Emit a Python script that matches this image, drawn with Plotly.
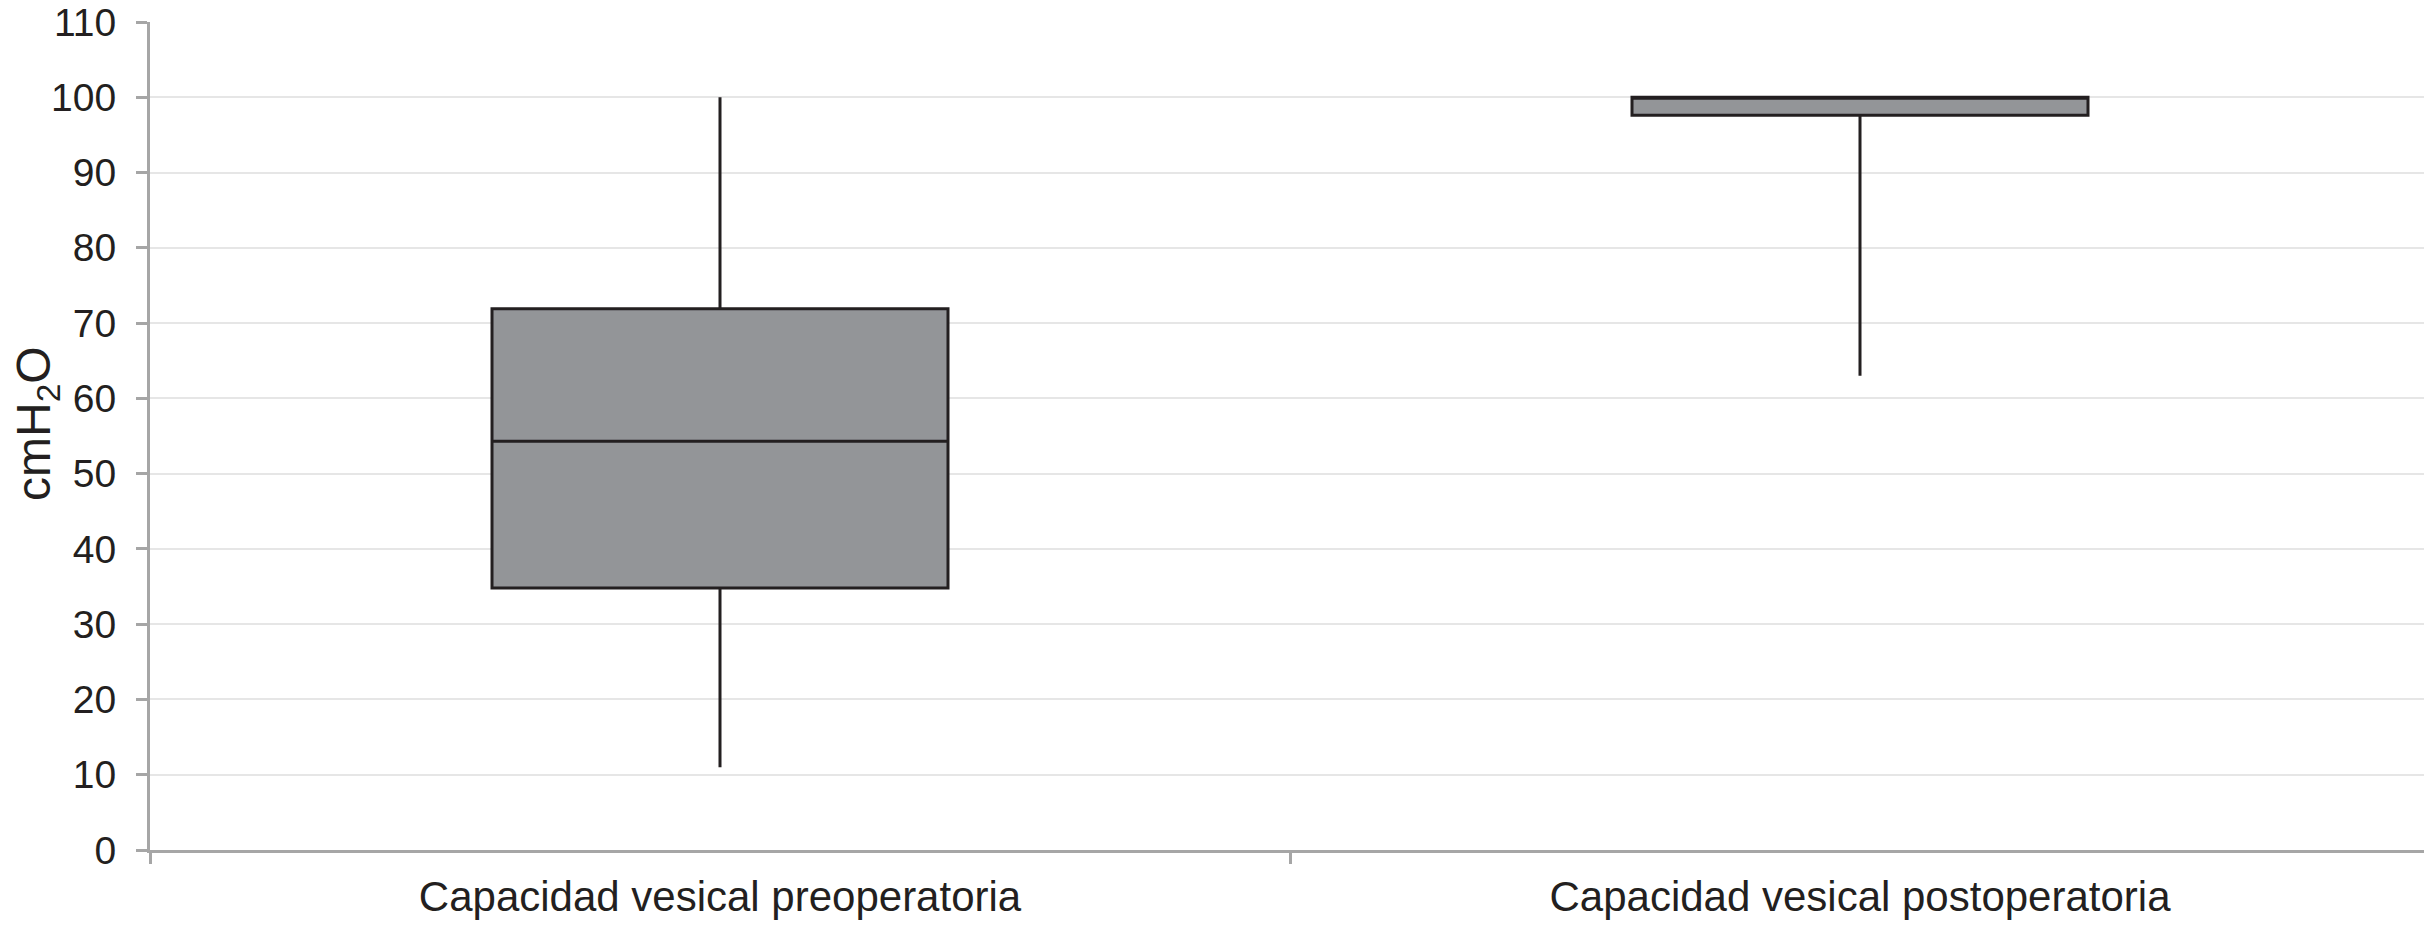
import plotly.graph_objects as go

categories = ["Capacidad vesical preoperatoria", "Capacidad vesical postoperatoria"]
q1 = [34.8, 97.6]
median = [54.3, 100]
q3 = [71.9, 100]
lowerfence = [11, 63]
upperfence = [100, 100]

y_ticks = list(range(0, 111, 10))
y_title = "cmH<sub>2</sub>O"

FONT = "Liberation Sans, Arial, Helvetica, sans-serif"
TEXT = "#231f20"
AXIS = "#a6a6a6"

fig = go.Figure()
fig.add_trace(go.Box(
    x=categories,
    q1=q1,
    median=median,
    q3=q3,
    lowerfence=lowerfence,
    upperfence=upperfence,
    width=0.4,
    fillcolor="#939598",
    line=dict(color="#231f20", width=3),
    whiskerwidth=0,
    boxpoints=False,
    hoverinfo="skip",
))

fig.update_layout(
    width=2432,
    height=932,
    margin=dict(l=142, r=10, t=14, b=90, autoexpand=False),
    plot_bgcolor="white",
    paper_bgcolor="white",
    showlegend=False,
    font=dict(family=FONT, color=TEXT),
)

fig.update_xaxes(
    automargin=False,
    range=[-0.5, 1.5],
    showline=True, linecolor=AXIS, linewidth=3,
    ticks="outside", tickson="boundaries", ticklen=11, tickwidth=3, tickcolor=AXIS,
    tickfont=dict(size=42, color=TEXT, family=FONT),
    showgrid=False, zeroline=False,
    ticklabelstandoff=8,
)

fig.update_yaxes(
    automargin=False,
    range=[0, 110], tickvals=y_ticks,
    showgrid=True, gridcolor="#e6e6e6", gridwidth=2,
    showline=True, linecolor=AXIS, linewidth=3,
    ticks="outside", ticklen=11, tickwidth=3, tickcolor=AXIS,
    tickfont=dict(size=39, color=TEXT, family=FONT),
    ticklabelstandoff=12,
    ticklabeloverflow="allow",
    zeroline=False,
)

fig.add_annotation(
    text=y_title, textangle=-90,
    xref="paper", yref="paper", x=0, y=0.5,
    xanchor="center", yanchor="middle",
    xshift=-113, yshift=12,
    showarrow=False,
    font=dict(size=48, color=TEXT, family=FONT),
)

fig.write_html("out.html")
